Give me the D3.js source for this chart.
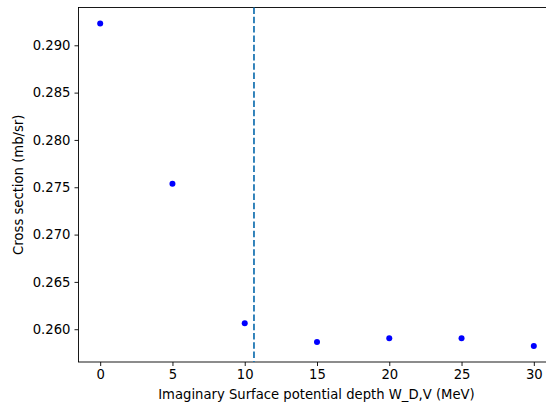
<!DOCTYPE html>
<html>
<head>
<meta charset="utf-8">
<script src="https://cdn.jsdelivr.net/npm/d3@7"></script>
<style>
  html, body { margin: 0; padding: 0; background: #fff; }
  svg { display: block; }
  text { font-family: "DejaVu Sans", sans-serif; fill: #000; }
</style>
</head>
<body>
<svg id="chart" width="546" height="409"></svg>
<script>
// Surface potential depth (MeV) and resulting cross section (mb/sr)
const depths = [0, 5, 10, 15, 20, 25, 30];
const crossSections = [0.29229, 0.27537, 0.26063, 0.25866, 0.25905, 0.25905, 0.25824];
const xTicks = [0, 5, 10, 15, 20, 25, 30];
const yTicks = [0.260, 0.265, 0.270, 0.275, 0.280, 0.285, 0.290];
const markerDepth = 10.64;

const svg = d3.select("#chart");
const plot = { left: 78.5, right: 555.5, top: 7.5, bottom: 362 };

// 5% padding around the data, matplotlib style
const xPad = (d3.max(depths) - d3.min(depths)) * 0.05;
const yMin = d3.min(crossSections), yMax = d3.max(crossSections);
const yPad = (yMax - yMin) * 0.05;

const x = d3.scaleLinear()
  .domain([d3.min(depths) - xPad, d3.max(depths) + xPad])
  .range([plot.left, plot.right]);
const y = d3.scaleLinear()
  .domain([yMin - yPad, yMax + yPad])
  .range([plot.bottom, plot.top]);

const fontSize = 13.2;

// Axes
const xAxis = svg.append("g")
  .attr("transform", `translate(0,${plot.bottom})`)
  .call(d3.axisBottom(x).tickValues(xTicks).tickFormat(d3.format("d")).tickSize(4).tickPadding(4));
const yAxis = svg.append("g")
  .attr("transform", `translate(${plot.left},0)`)
  .call(d3.axisLeft(y).tickValues(yTicks).tickFormat(d3.format(".3f")).tickSize(4).tickPadding(4));

[xAxis, yAxis].forEach(g => {
  g.select(".domain").remove();
  g.selectAll("line").attr("stroke", "#000").attr("stroke-width", 0.9);
  g.selectAll("text").attr("font-size", fontSize).attr("font-family", "DejaVu Sans").attr("fill", "#222");
});

// Frame
svg.append("rect")
  .attr("x", plot.left).attr("y", plot.top)
  .attr("width", plot.right - plot.left).attr("height", plot.bottom - plot.top)
  .attr("fill", "none").attr("stroke", "#000").attr("stroke-width", 0.9);

// Vertical dashed reference line
svg.append("line")
  .attr("x1", x(markerDepth)).attr("x2", x(markerDepth))
  .attr("y1", plot.top).attr("y2", plot.bottom)
  .attr("stroke", "#1f77b4").attr("stroke-width", 1.8)
  .attr("stroke-dasharray", "6.5,2.8");

// Data points
svg.append("g").selectAll("circle")
  .data(depths)
  .join("circle")
  .attr("cx", d => x(d))
  .attr("cy", (d, i) => y(crossSections[i]))
  .attr("r", 3)
  .attr("fill", "#0000ff");

// Axis labels
svg.append("text")
  .attr("x", 316.5).attr("y", 399)
  .attr("text-anchor", "middle").attr("font-size", fontSize).attr("fill", "#222")
  .text("Imaginary Surface potential depth W_D,V (MeV)");
svg.append("text")
  .attr("transform", `translate(22.5,${(plot.top + plot.bottom) / 2}) rotate(-90)`)
  .attr("text-anchor", "middle").attr("font-size", fontSize).attr("fill", "#222")
  .text("Cross section (mb/sr)");
</script>
</body>
</html>
